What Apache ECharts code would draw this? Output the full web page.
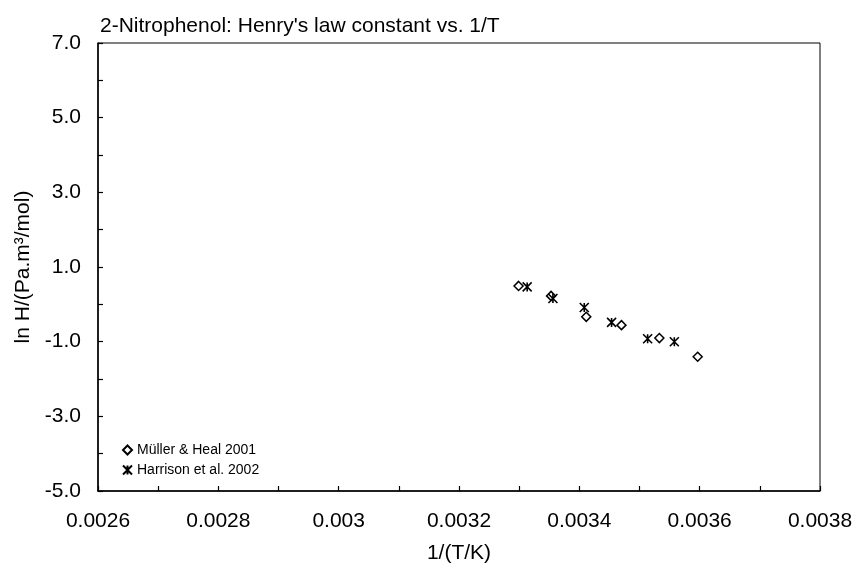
<!DOCTYPE html>
<html>
<head>
<meta charset="utf-8">
<style>
  html, body { margin: 0; padding: 0; background: #fff; }
  #chart { width: 856px; height: 569px; }
</style>
<script src="https://cdn.jsdelivr.net/npm/echarts@6/dist/echarts.min.js"></script>
</head>
<body>
<div id="chart"></div>
<script>
// Müller & Heal 2001: reciprocal temperature and ln H
const mullerInvT = [0.003299, 0.003353, 0.0034115, 0.00347, 0.003533, 0.0035967];
const mullerLnH  = [0.493, 0.226, -0.335, -0.557, -0.904, -1.403];

// Harrison et al. 2002
const harrisonInvT = [0.0033133, 0.0033561, 0.0034082, 0.0034536, 0.0035135, 0.0035579];
const harrisonLnH  = [0.466, 0.156, -0.084, -0.485, -0.923, -1.003];

const seriesNames = ['Müller & Heal 2001', 'Harrison et al. 2002'];

const titleText = "2-Nitrophenol: Henry's law constant vs. 1/T";
const xAxisName = '1/(T/K)';
const yAxisName = 'ln H/(Pa.m³/mol)';

const FONT = '"Liberation Sans", Arial, sans-serif';
const FS = 21;

// asterisk marker: an X with a vertical stroke through it
const starPath = 'path://M0,0L10,10M10,0L0,10M5,0L5,10';

const pairs = (xs, ys) => xs.map((x, i) => [x, ys[i]]);

const chart = echarts.init(document.getElementById('chart'), null, { renderer: 'canvas' });

chart.setOption({
  animation: false,
  backgroundColor: '#ffffff',
  textStyle: { fontFamily: FONT, color: '#000' },
  title: {
    text: titleText,
    left: 95,
    top: 11,
    textStyle: { fontFamily: FONT, fontSize: FS, fontWeight: 'normal', color: '#000' }
  },
  grid: {
    left: 98, right: 36, top: 43, bottom: 77,
    show: true, borderColor: '#000', borderWidth: 1, backgroundColor: 'transparent'
  },
  legend: {
    orient: 'vertical',
    left: 117,
    top: 438,
    itemWidth: 9,
    itemHeight: 9,
    itemGap: 6,
    textStyle: { fontFamily: FONT, fontSize: 14, color: '#000' },
    data: seriesNames
  },
  xAxis: {
    type: 'value',
    min: 0.0026,
    max: 0.0038,
    interval: 0.0001,
    name: xAxisName,
    nameLocation: 'middle',
    nameGap: 52,
    nameTextStyle: { fontFamily: FONT, fontSize: FS, color: '#000' },
    axisLine: { show: true, onZero: false, lineStyle: { color: '#000', width: 1.5 } },
    axisTick: { show: true, inside: true, length: 5, lineStyle: { color: '#000', width: 1.2 } },
    splitLine: { show: false },
    axisLabel: {
      margin: 20,
      fontFamily: FONT, fontSize: FS, color: '#000',
      formatter: function (v) {
        const k = Math.round(v * 10000);
        if (k % 2 !== 0) return '';
        return String(parseFloat((k / 10000).toFixed(4)));
      }
    }
  },
  yAxis: {
    type: 'value',
    min: -5,
    max: 7,
    interval: 1,
    name: yAxisName,
    nameLocation: 'middle',
    nameGap: 62,
    nameTextStyle: { fontFamily: FONT, fontSize: FS, color: '#000' },
    axisLine: { show: true, onZero: false, lineStyle: { color: '#000', width: 1.5 } },
    axisTick: { show: true, inside: true, length: 5, lineStyle: { color: '#000', width: 1.2 } },
    splitLine: { show: false },
    axisLabel: {
      margin: 17,
      fontFamily: FONT, fontSize: FS, color: '#000',
      formatter: function (v) {
        const k = Math.round(v);
        if (Math.abs(k % 2) !== 1) return '';
        return k.toFixed(1);
      }
    }
  },
  series: [
    {
      name: seriesNames[0],
      type: 'scatter',
      symbol: 'diamond',
      symbolSize: 9,
      itemStyle: { color: '#fff', borderColor: '#000', borderWidth: 1.5, opacity: 1 },
      data: pairs(mullerInvT, mullerLnH)
    },
    {
      name: seriesNames[1],
      type: 'scatter',
      symbol: starPath,
      symbolSize: 9,
      itemStyle: { color: 'rgba(0,0,0,0)', borderColor: '#000', borderWidth: 1.6, opacity: 1 },
      data: pairs(harrisonInvT, harrisonLnH)
    }
  ]
});
</script>
</body>
</html>
